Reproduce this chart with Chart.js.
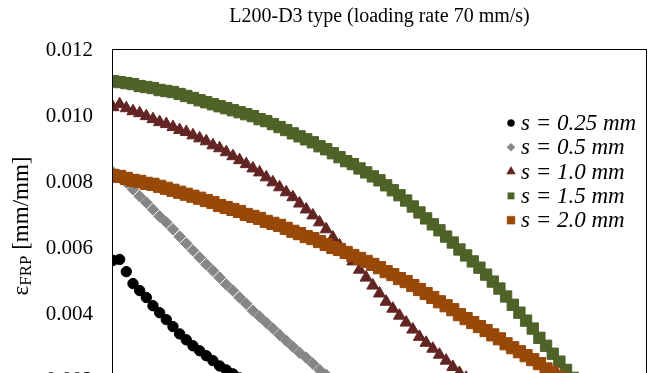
<!DOCTYPE html>
<html>
<head>
<meta charset="utf-8">
<script src="https://cdn.jsdelivr.net/npm/chart.js@4.4.0/dist/chart.umd.min.js"></script>
<style>
    html, body { margin: 0; padding: 0; background: #fff; overflow: hidden; }
    #wrap { width: 665px; height: 520px; }
</style>
</head>
<body>
<div id="wrap"><canvas id="chart" width="665" height="520"></canvas></div>
<script>
// ==========================================
// DATA
// ==========================================
const chartTitle = 'L200-D3 type (loading rate 70 mm/s)';
const seriesNames = ['s = 0.25 mm', 's = 0.5 mm', 's = 1.0 mm', 's = 1.5 mm', 's = 2.0 mm'];
const yTicks = [0, 0.002, 0.004, 0.006, 0.008, 0.010, 0.012];

// distance along the sheet [mm], one sample every 2.5 mm
const distance = [
    0, 2.5, 5, 7.5, 10, 12.5, 15, 17.5, 20, 22.5, 25, 27.5, 30, 32.5, 35, 37.5, 40, 42.5,
    45, 47.5, 50, 52.5, 55, 57.5, 60, 62.5, 65, 67.5, 70, 72.5, 75, 77.5, 80, 82.5, 85, 87.5,
    90, 92.5, 95, 97.5, 100, 102.5, 105, 107.5, 110, 112.5, 115, 117.5, 120, 122.5, 125, 127.5,
    130, 132.5, 135, 137.5, 140, 142.5, 145, 147.5, 150, 152.5, 155, 157.5, 160, 162.5, 165,
    167.5, 170, 172.5, 175, 177.5
];

const eps025 = [
    0.00564, 0.00567, 0.00530, 0.00494, 0.00473, 0.00452, 0.00427, 0.00406, 0.00385, 0.00364,
    0.00342, 0.00324, 0.00306, 0.00291, 0.00276, 0.00261, 0.00245, 0.00233, 0.00221, 0.00209,
    0.00197, 0.00185
];
const eps05 = [
    0.00830, 0.00815, 0.00800, 0.00779, 0.00758, 0.00739, 0.00718, 0.00697, 0.00679, 0.00658,
    0.00636, 0.00615, 0.00594, 0.00573, 0.00552, 0.00533, 0.00512, 0.00491, 0.00473, 0.00452,
    0.00433, 0.00412, 0.00394, 0.00376, 0.00358, 0.00339, 0.00321, 0.00303, 0.00285, 0.00270,
    0.00252, 0.00233, 0.00218, 0.00203, 0.00188
];
const eps10 = [
    0.01027, 0.01036, 0.01024, 0.01015, 0.01009, 0.01000, 0.00991, 0.00982, 0.00976, 0.00967,
    0.00958, 0.00952, 0.00942, 0.00933, 0.00924, 0.00912, 0.00903, 0.00891, 0.00879, 0.00867,
    0.00855, 0.00842, 0.00830, 0.00815, 0.00800, 0.00785, 0.00770, 0.00755, 0.00736, 0.00718,
    0.00700, 0.00679, 0.00658, 0.00633, 0.00609, 0.00585, 0.00561, 0.00536, 0.00512, 0.00488,
    0.00464, 0.00439, 0.00418, 0.00397, 0.00376, 0.00355, 0.00333, 0.00315, 0.00297, 0.00279,
    0.00261, 0.00242, 0.00224, 0.00209, 0.00194, 0.00179
];
const eps15 = [
    0.01106, 0.01103, 0.01100, 0.01097, 0.01091, 0.01088, 0.01085, 0.01079, 0.01076, 0.01073,
    0.01067, 0.01061, 0.01055, 0.01048, 0.01042, 0.01036, 0.01030, 0.01024, 0.01018, 0.01012,
    0.01006, 0.01000, 0.00991, 0.00985, 0.00976, 0.00967, 0.00958, 0.00948, 0.00939, 0.00930,
    0.00921, 0.00909, 0.00900, 0.00888, 0.00876, 0.00864, 0.00855, 0.00842, 0.00830, 0.00818,
    0.00806, 0.00791, 0.00776, 0.00761, 0.00745, 0.00727, 0.00709, 0.00691, 0.00673, 0.00655,
    0.00636, 0.00618, 0.00597, 0.00579, 0.00561, 0.00542, 0.00521, 0.00500, 0.00479, 0.00455,
    0.00430, 0.00406, 0.00382, 0.00358, 0.00330, 0.00306, 0.00282, 0.00258, 0.00233, 0.00209,
    0.00185, 0.00161
];
const eps20 = [
    0.00821, 0.00818, 0.00812, 0.00806, 0.00803, 0.00797, 0.00794, 0.00788, 0.00782, 0.00776,
    0.00770, 0.00764, 0.00758, 0.00752, 0.00745, 0.00739, 0.00730, 0.00724, 0.00718, 0.00712,
    0.00703, 0.00697, 0.00691, 0.00682, 0.00676, 0.00670, 0.00661, 0.00652, 0.00645, 0.00636,
    0.00630, 0.00621, 0.00612, 0.00603, 0.00597, 0.00588, 0.00579, 0.00570, 0.00561, 0.00552,
    0.00542, 0.00530, 0.00521, 0.00509, 0.00500, 0.00488, 0.00476, 0.00464, 0.00452, 0.00439,
    0.00427, 0.00415, 0.00400, 0.00388, 0.00376, 0.00364, 0.00352, 0.00339, 0.00327, 0.00312,
    0.00300, 0.00288, 0.00276, 0.00264, 0.00252, 0.00236, 0.00224, 0.00212, 0.00200, 0.00185
];

// ==========================================
// STYLE
// ==========================================
const serif = "'Liberation Serif', 'Times New Roman', serif";
const colors = ['#000000', '#868686', '#632523', '#4f6228', '#984807'];
const markers = ['circle', 'rectRot', 'triangle', 'rect', 'rect'];
const markerSize = [5.2, 5.8, 7, 8, 8.6];
const legendSize = [3.5, 4, 5, 4.5, 5.5];

function toPoints(values) {
    return values.map(function(v, i) { return { x: distance[i], y: v }; });
}

const allSeries = [eps025, eps05, eps10, eps15, eps20];

const datasets = allSeries.map(function(values, i) {
    return {
        label: seriesNames[i],
        data: toPoints(values),
        showLine: false,
        pointStyle: markers[i],
        pointRadius: markerSize[i],
        pointHoverRadius: markerSize[i],
        pointBorderWidth: 1,
        backgroundColor: colors[i],
        borderColor: colors[i],
        order: allSeries.length - i   // later series drawn on top, like the original
    };
});

// frame around the plot area
const framePlugin = {
    id: 'frame',
    afterDatasetsDraw: function(chart) {
        const a = chart.chartArea, ctx = chart.ctx;
        ctx.save();
        ctx.strokeStyle = '#000';
        ctx.lineWidth = 1;
        ctx.strokeRect(Math.round(a.left) - 0.5, Math.round(a.top) - 0.5,
            Math.round(a.right - a.left) + 1, Math.round(a.bottom - a.top) + 1);
        ctx.restore();
    }
};

// title, axis title with subscript, legend inside the plot
const textPlugin = {
    id: 'texts',
    afterDraw: function(chart) {
        const ctx = chart.ctx, a = chart.chartArea;
        ctx.save();
        ctx.fillStyle = '#000';

        // chart title
        ctx.font = '20px ' + serif;
        ctx.textAlign = 'center';
        ctx.textBaseline = 'middle';
        ctx.fillText(chartTitle, (a.left + a.right) / 2, 17);

        // y axis title: eps_FRP [mm/mm]
        ctx.translate(22, 226);
        ctx.rotate(-Math.PI / 2);
        ctx.textAlign = 'left';
        ctx.textBaseline = 'middle';
        const big = '23px ' + serif, small = '17px ' + serif;
        ctx.font = big;
        const w1 = ctx.measureText('\u03b5').width;
        ctx.font = small;
        const w2 = ctx.measureText('FRP').width;
        ctx.font = big;
        const w3 = ctx.measureText(' [mm/mm]').width;
        let x = -(w1 + w2 + w3) / 2;
        ctx.fillText('\u03b5', x, 0);
        x += w1;
        ctx.font = small;
        ctx.fillText('FRP', x, 5);
        x += w2;
        ctx.font = big;
        ctx.fillText(' [mm/mm]', x, 0);
        ctx.setTransform(1, 0, 0, 1, 0, 0);

        // legend
        ctx.font = 'italic 23px ' + serif;
        ctx.textAlign = 'left';
        ctx.textBaseline = 'middle';
        chart.data.datasets.forEach(function(ds, i) {
            const y = 123 + i * 24.3;
            ctx.fillStyle = ds.backgroundColor;
            ctx.strokeStyle = ds.borderColor;
            ctx.lineWidth = 0.5;
            Chart.helpers.drawPoint(ctx, {
                pointStyle: ds.pointStyle,
                radius: legendSize[i],
                borderWidth: 0.5,
                rotation: 0
            }, 511, y);
            ctx.fillStyle = '#000';
            ctx.fillText(ds.label, 521, y + 1);
        });
        ctx.restore();
    }
};

new Chart(document.getElementById('chart'), {
    type: 'scatter',
    data: { datasets: datasets },
    options: {
        responsive: false,
        animation: false,
        events: [],
        layout: { padding: { left: 0, right: 19, top: 50, bottom: 0 } },
        plugins: {
            legend: { display: false },
            title: { display: false },
            tooltip: { enabled: false }
        },
        scales: {
            x: {
                type: 'linear',
                min: 0,
                max: 200,
                grid: { display: false, drawTicks: false },
                border: { display: false },
                ticks: { stepSize: 20, color: '#000', font: { family: serif, size: 20 } },
                afterFit: function(scale) { scale.height = 73; }
            },
            y: {
                min: 0,
                max: 0.012,
                grid: { display: false, drawTicks: false },
                border: { display: false },
                afterBuildTicks: function(scale) {
                    scale.ticks = yTicks.map(function(v) { return { value: v }; });
                },
                ticks: {
                    color: '#000',
                    padding: 20,
                    font: { family: serif, size: 21 },
                    callback: function(v) { return v.toFixed(3); }
                },
                afterFit: function(scale) { scale.width = 113; }
            }
        }
    },
    plugins: [framePlugin, textPlugin]
});
</script>
</body>
</html>
